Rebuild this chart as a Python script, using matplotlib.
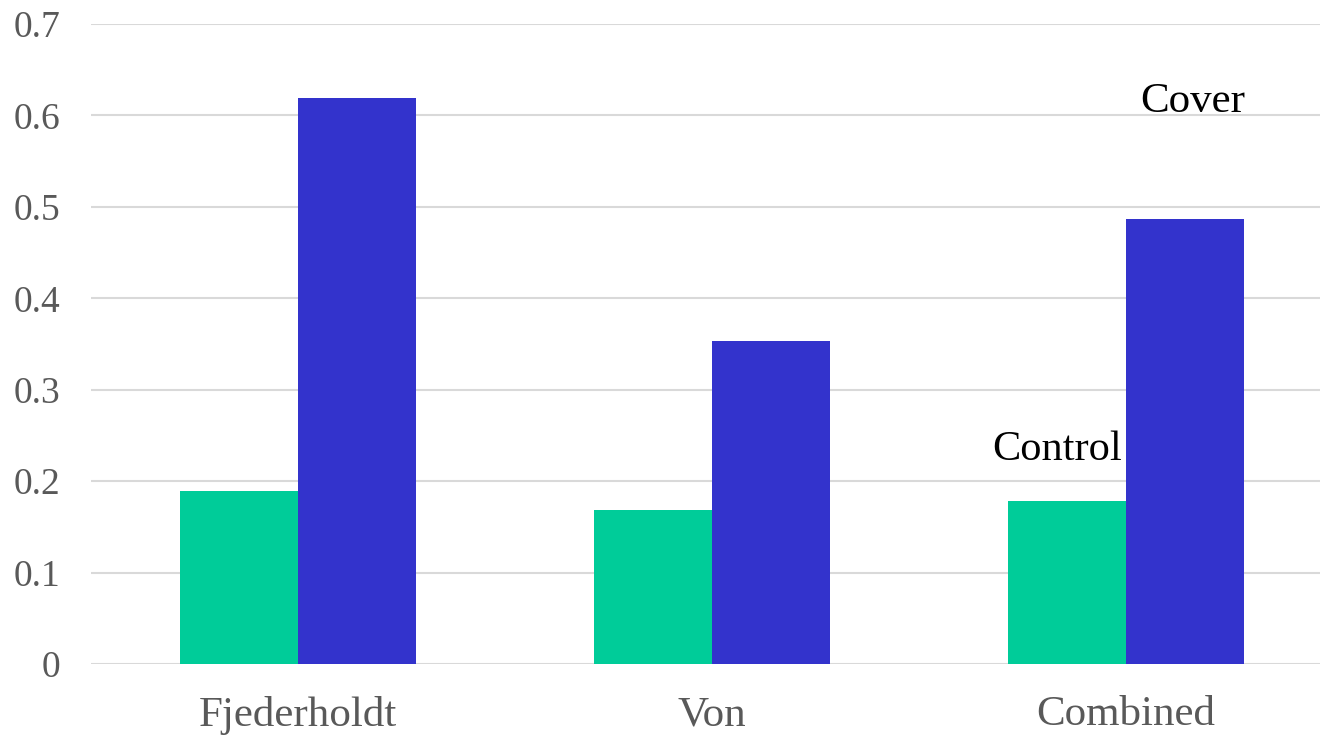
import numpy as np
import matplotlib
matplotlib.use('Agg')
import matplotlib.pyplot as plt

categories = ['Fjederholdt', 'Von', 'Combined']
control = [0.189, 0.168, 0.178]
cover = [0.619, 0.353, 0.487]
yticks = [0, 0.1, 0.2, 0.3, 0.4, 0.5, 0.6, 0.7]
ytick_labels = ['0', '0.1', '0.2', '0.3', '0.4', '0.5', '0.6', '0.7']

plt.rcParams['font.family'] = ['Liberation Serif', 'DejaVu Serif']

fig = plt.figure(figsize=(13.2, 7.37), dpi=100)
ax = fig.add_axes([91 / 1320, 73 / 737, 1 - 91 / 1320, 640 / 737])

x = np.arange(len(categories))
w = 0.285
ax.bar(x - w / 2, control, width=w, color='#00CC99', zorder=2)
ax.bar(x + w / 2, cover, width=w, color='#3333CC', zorder=2)

ax.set_xlim(-0.5, 2.469)
ax.set_ylim(0, 0.7)
ax.set_yticks(yticks)
ax.set_yticklabels(ytick_labels)
ax.set_xticks(x)
ax.set_xticklabels(categories)
ax.yaxis.grid(True, color='#D9D9D9', linewidth=1.5)
ax.set_axisbelow(True)
for s in ax.spines.values():
    s.set_visible(False)
ax.tick_params(axis='y', length=0, pad=22, labelsize=27, labelcolor='#595959')
ax.tick_params(axis='x', length=0, pad=23, labelsize=31, labelcolor='#595959')

# series labels placed next to the last group
ax.text(2 + w + 0.003, 0.604, 'Cover', ha='right', va='baseline', fontsize=31, color='black')
ax.text(1.99, 0.223, 'Control', ha='right', va='baseline', fontsize=30.5, color='black')

fig.savefig('out.png', dpi=100)
